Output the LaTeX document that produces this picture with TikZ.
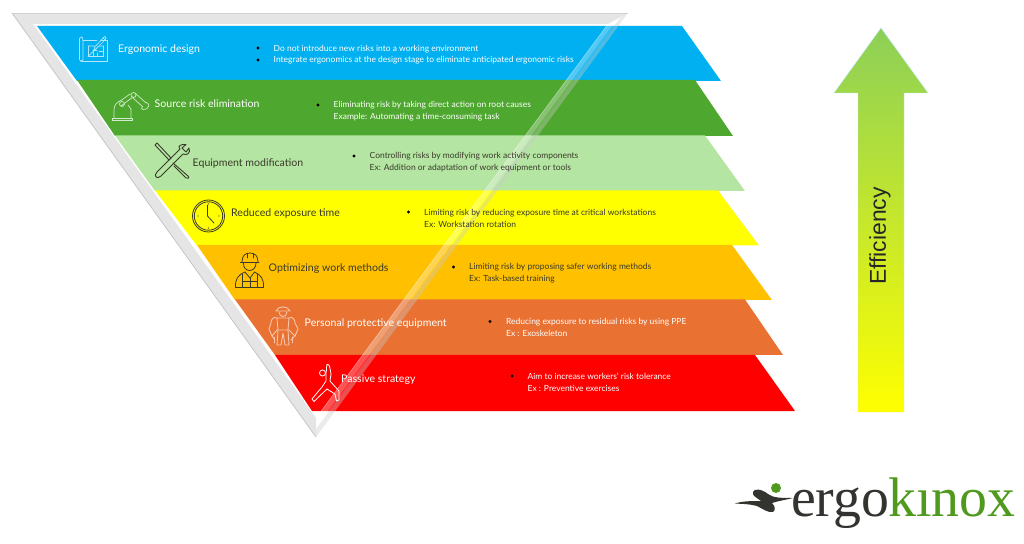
\documentclass[tikz,border=0pt]{standalone}
\usepackage{fontspec}
\setmainfont{Lato}
\newfontfamily\logofont{Liberation Serif}
\newfontfamily\arrowfont{Liberation Sans}
\definecolor{cblue}{HTML}{00B0F0}
\definecolor{cgreen}{HTML}{4EA72E}
\definecolor{clight}{HTML}{B4E5A2}
\definecolor{cyellow}{HTML}{FFFF00}
\definecolor{camber}{HTML}{FFC000}
\definecolor{corange}{HTML}{E97132}
\definecolor{cred}{HTML}{FF0000}
\definecolor{ink}{HTML}{3A3A2A}
\definecolor{lgreen}{HTML}{4F9A1E}
\definecolor{lgrey}{HTML}{333330}
\definecolor{agreen}{HTML}{8CCF58}
\tikzset{
  x=1bp,y=-1bp,
  title/.style={font=\fontsize{10.6}{12}\selectfont,anchor=west,inner sep=0pt},
  body/.style={font=\fontsize{8.5}{11.7}\selectfont,anchor=west,inner sep=0pt,align=left},
  dotm/.style={circle,fill,inner sep=0pt,minimum size=3.2bp},
  icon/.style={line width=.7bp,line cap=round,line join=round},
}
\begin{document}
\begin{tikzpicture}
\useasboundingbox (0,0) rectangle (1024,544);
% bands
\fill[cblue]  (37,26) -- (682,26) -- (721,81) -- (77,81) -- cycle;
\fill[cgreen] (77,80) -- (695,80) -- (733,136) -- (115,136) -- cycle;
\fill[clight] (115,135.5) -- (705,135.5) -- (745,191) -- (155,191) -- cycle;
\fill[cyellow](155,190.5) -- (718,190.5) -- (759,245.5) -- (197,245.5) -- cycle;
\fill[camber] (197,245) -- (732,245) -- (772,300) -- (235,300) -- cycle;
\fill[corange](235,299.5) -- (745,299.5) -- (783,355) -- (275,355) -- cycle;
\fill[cred]   (275,355) -- (755,355) -- (795,411) -- (312,411) -- cycle;
% frame
\fill[gray!20] (12,13) -- (628,13) -- (608,24) -- (33,24) -- cycle;
\fill[gray!20] (12,13) -- (33,24) -- (316,418) -- (316,437) -- cycle;
\fill[white,opacity=.18] (628,13) -- (608,24) -- (316,418) -- (316,437) -- cycle;
\fill[white,opacity=.18] (617,19) -- (608,24) -- (316,418) -- (316,427) -- cycle;
\fill[gray!60,opacity=.25] (628,13) -- (621,17) -- (316,429) -- (316,437) -- cycle;
\draw[gray!35,line width=.6bp] (12,13) -- (628,13);
\draw[gray!45,line width=.8bp] (12,13) -- (316,437);
\draw[white,line width=.6bp,opacity=.4] (608,24) -- (316,418);
% titles
\node[title,text=white] (t1) at (118,50) {Ergonomic design};
\node[title,text=white] (t2) at (154.5,104) {Source risk elimination};
\node[title,text=ink] (t3) at (192.5,163.7) {Equipment modification};
\node[title,text=ink] (t4) at (231,214) {Reduced exposure time};
\node[title,text=ink] (t5) at (268.5,268.7) {Optimizing work methods};
\node[title,text=white] (t6) at (304.5,323.7) {Personal protective equipment};
\node[title,text=white] (t7) at (341,379.2) {Passive strategy};
% bodies
\node[dotm,text=white] (d1a) at (258,48) {};
\node[dotm,text=white] (d1b) at (258,60) {};
\node[body,text=white] (b1) at (273.5,54.5) {Do not introduce new risks into a working environment\\Integrate ergonomics at the design stage to eliminate anticipated ergonomic risks};
\node[dotm,text=white] (d2) at (318,105) {};
\node[body,text=white] (b2) at (333.5,111) {Eliminating risk by taking direct action on root causes\\Example: Automating a time-consuming task};
\node[dotm,text=ink] (d3) at (354,156) {};
\node[body,text=ink] (b3) at (369.5,162) {Controlling risks by modifying work activity components\\Ex: Addition or adaptation of work equipment or tools};
\node[dotm,text=black] (d4) at (408.5,212) {};
\node[body,text=ink] (b4) at (424,218.5) {Limiting risk by reducing exposure time at critical workstations\\Ex: Workstation rotation};
\node[dotm,text=black] (d5) at (453.5,267) {};
\node[body,text=ink] (b5) at (469,273) {Limiting risk by proposing safer working methods\\Ex: Task-based training};
\node[dotm,text=white] (d6) at (490,321.5) {};
\node[body,text=white] (b6) at (506,327.5) {Reducing exposure to residual risks by using PPE\\Ex : Exoskeleton};
\node[dotm,text=white] (d7) at (512,376) {};
\node[body,text=white] (b7) at (527.5,382.5) {Aim to increase workers' risk tolerance\\Ex : Preventive exercises};
% icon 1 blueprint
\begin{scope}[icon,draw=white!70!cblue]
\draw (82,37) .. controls (79,37) and (79.5,39) .. (79.5,40) -- (79.5,59.5) .. controls (79.5,61.5) and (82,61.5) .. (83,60) -- (83,40) .. controls (83,38) and (82,37) .. (81,37);
\draw (83,40.5) -- (97,40.5);
\draw (101,40.5) -- (107.5,40.5) -- (107.5,61) -- (81,61);
\draw (88,46) -- (95,46) (99,46) -- (103.5,46) -- (103.5,56.5) -- (88,56.5) -- cycle;
\draw (88,46) -- (88,56.5) (93,50) -- (93,56) (93,50.5) -- (97,50.5) (99,51) -- (103,51) (97,53) -- (97,56);
\draw (96,49) -- (94,49.5) -- (94.5,47.5) -- (103,38) -- (105,40) -- cycle;
\draw (103,38) -- (105,36.5) -- (106,38) -- (105,40);
\end{scope}
% icon 2 robot
\begin{scope}[icon,draw=white!75!cgreen]
\draw (112.5,118.5) -- (132,118.5) -- (132,120) -- (112.5,120) -- cycle;
\draw (114,118.5) -- (114,110) .. controls (114,105) and (117,102) .. (121,100.5) -- (130,94) ;
\draw (131,118.5) -- (131,109) -- (128,105) (121,106) -- (133,97);
\draw (122,104) circle[radius=2.5];
\draw (133.5,95) circle[radius=2.5];
\draw (135,93) -- (146,103) (133,98) -- (143,107);
\draw (142,107) .. controls (140,110) and (145,110) .. (147,108.5) .. controls (150,106) and (149,103) .. (146,102.5);
\end{scope}
% icon 3 tools
\begin{scope}[icon,draw=ink,line width=.9bp]
\draw (155,145) -- (157,143) -- (171,158) -- (169,160) -- cycle;
\draw (173,163) -- (188,176) .. controls (190,178) and (188,179) .. (186,178) -- (174,166);
\draw (157,172) -- (180,149) .. controls (177,146) and (181,144) .. (186,144.5) -- (182,148) -- (186,152) -- (189,148) .. controls (191,153) and (187,156) .. (183,154) -- (161,176) .. controls (157,180) and (153,176) .. (157,172);
\end{scope}
% icon 4 clock
\begin{scope}[icon,draw=ink,line width=.8bp]
\draw (208.5,216) circle[radius=16];
\draw (208.5,216) circle[radius=14.2];
\draw (207.5,205) -- (207.5,216) -- (214,223);
\fill[ink] (208.5,204) circle[radius=.6] (198,216) circle[radius=.6] (219,216) circle[radius=.6] (208.5,228) circle[radius=.6];
\end{scope}
% icon 5 worker
\begin{scope}[icon,draw=ink,line width=.8bp]
\draw (242,262) .. controls (242,256) and (245,253) .. (250,253) .. controls (255,253) and (258,256) .. (258,262);
\draw (240.5,262.5) -- (259,262.5);
\draw (247,254) -- (247,258) (253,254) -- (253,258);
\draw (243.5,263) .. controls (243,273) and (256,273) .. (256,263);
\draw (235.5,287.5) .. controls (235,279) and (238,275) .. (245,272) -- (250,278) -- (254.5,272) .. controls (261,275) and (264,279) .. (263.5,287.5) -- cycle;
\draw (242.5,274) -- (242.5,287) (257,274) -- (257,287) (242.5,281) -- (257,281) (250,278) -- (250,287);
\end{scope}
% icon 6 exo
\begin{scope}[icon,draw=white!60!corange,line width=.9bp]
\draw (276,311) .. controls (278,305.5) and (288,305.5) .. (290,311) -- cycle;
\draw (279,312) .. controls (279,318) and (287,318) .. (287,312);
\draw (277,318) -- (289,318) -- (288,330) -- (278,330) -- cycle;
\draw (277,318) .. controls (273,316) and (271,320) .. (271,323) -- (269,329) -- (272,336) -- (277,330);
\draw (289,318) .. controls (293,316) and (295,320) .. (295,323) -- (298,329) -- (295,336) -- (289,330);
\draw (272,336) -- (275,340) (295,336) -- (291,340);
\draw (278,330) -- (277,345) -- (281,345) -- (283,333) -- (285,345) -- (289,345) -- (288,330);
\draw (274,337) -- (274,343) (292,337) -- (292,343);
\end{scope}
% icon 7 stretch
\begin{scope}[icon,draw=white,line width=.8bp]
\draw (322.5,373) circle[radius=3];
\draw (326,381) -- (326,373) .. controls (327,369) and (326,366) .. (327,364.5) .. controls (330,363) and (330,370) .. (331,374) -- (330,381) -- (339,391) -- (339,400) -- (336.5,401) -- (335,394) -- (327,389) -- (314,401.5) -- (312,399) -- (322,387) -- cycle;
\end{scope}
% arrow
\path[bottom color=cyellow,top color=agreen] (858,412) -- (858,93) -- (834,93) -- (881,28) -- (928,93) -- (904,93) -- (904,412) -- cycle;
\draw[cyan!25,line width=.4bp] (858,412) -- (858,93) -- (834,93) -- (881,28) -- (928,93) -- (904,93) -- (904,412);
\node[rotate=90,font=\arrowfont\fontsize{23}{26}\selectfont,text=black!85,inner sep=0pt] (eff) at (880,236) {Efficiency};
% logo
\node[anchor=base west,inner sep=0pt,text=lgrey,font=\logofont\fontsize{56}{56}\selectfont] (lg1) at (791,516) {ergo};
\node[anchor=base west,inner sep=0pt,text=lgreen,font=\logofont\fontsize{56}{56}\selectfont] (lg2) at (888,516) {kınox};
\fill[lgreen] (776,488) circle[radius=5];
\fill[lgrey] (753,492) .. controls (754,488) and (762,489) .. (768,494) .. controls (773,498) and (782,498) .. (793,498) .. controls (785,500) and (778,501) .. (772,503) .. controls (775,506) and (776,510) .. (773,512) .. controls (768,513) and (763,509) .. (757,506) .. controls (750,504) and (743,504) .. (735,503.5) .. controls (742,501) and (752,501) .. (761,501) .. controls (756,497) and (752,496) .. (753,492) -- cycle;
\end{tikzpicture}
\end{document}
